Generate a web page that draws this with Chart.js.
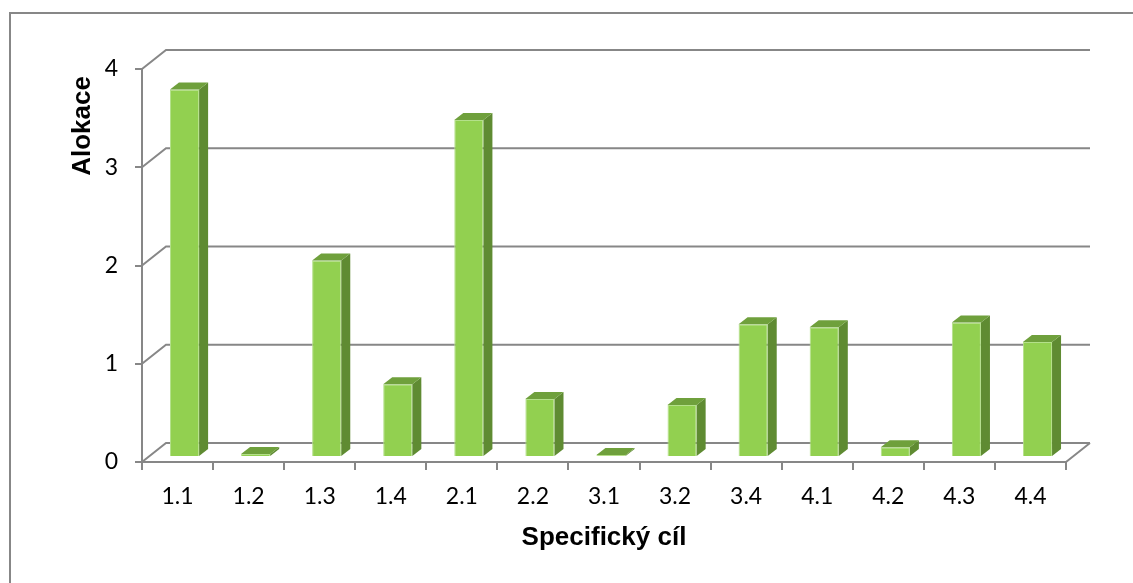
<!DOCTYPE html>
<html lang="cs">
<head>
    <meta charset="UTF-8">
    <title>Alokace podle specifického cíle</title>
    <script src="https://cdn.jsdelivr.net/npm/chart.js"></script>
    <style>
        html, body { margin: 0; padding: 0; background: #fff; }
        #wrap { position: relative; width: 1133px; height: 583px; }
        #frame {
            position: absolute; left: 9px; top: 12px; right: 0; bottom: 0;
            border-left: 2px solid #878787; border-top: 2px solid #878787;
            pointer-events: none;
        }
    </style>
</head>
<body>
    <div id="wrap">
        <canvas id="chart"></canvas>
        <div id="frame"></div>
    </div>
    <script>
        // Data
        const categories = ['1.1', '1.2', '1.3', '1.4', '2.1', '2.2', '3.1', '3.2', '3.4', '4.1', '4.2', '4.3', '4.4'];
        const allocation = [3.74, 0.03, 2.0, 0.74, 3.43, 0.59, 0.02, 0.53, 1.35, 1.32, 0.10, 1.37, 1.17];
        const yTicks = [0, 1, 2, 3, 4];
        const yTitle = 'Alokace';

        const GRID = '#878787';
        const FRONT = '#92d050';
        const SIDE = '#5f8b32';
        const TOP = '#6fa03c';

        // depth offsets: back wall and bar plane, bar thickness
        const WALL = { dx: 24, dy: -19 };
        const BAR = { dx: 7, dy: -5 };
        const DEPTH = { dx: 9, dy: -7 };

        const pseudo3d = {
            id: 'pseudo3d',
            beforeDatasetsDraw(chart) {
                const ctx = chart.ctx;
                const { left, right, bottom } = chart.chartArea;
                const y = chart.scales.y;
                ctx.save();
                ctx.strokeStyle = GRID;
                ctx.lineWidth = 2;
                ctx.beginPath();
                yTicks.forEach(v => {
                    const py = y.getPixelForValue(v);
                    ctx.moveTo(left, py);
                    ctx.lineTo(left + WALL.dx, py + WALL.dy);
                    ctx.lineTo(right + WALL.dx, py + WALL.dy);
                });
                // right edge of the floor
                ctx.moveTo(right, bottom);
                ctx.lineTo(right + WALL.dx, bottom + WALL.dy);
                ctx.stroke();
                ctx.restore();

                ctx.save();
                ctx.translate(BAR.dx, BAR.dy);
            },
            afterDatasetsDraw(chart) {
                const ctx = chart.ctx;
                const meta = chart.getDatasetMeta(0);
                meta.data.forEach(bar => {
                    const p = bar.getProps(['x', 'y', 'base', 'width'], true);
                    const x0 = p.x - p.width / 2, x1 = p.x + p.width / 2;
                    const top = p.y, base = p.base;
                    // side face
                    ctx.fillStyle = SIDE;
                    ctx.beginPath();
                    ctx.moveTo(x1, top);
                    ctx.lineTo(x1 + DEPTH.dx, top + DEPTH.dy);
                    ctx.lineTo(x1 + DEPTH.dx, base + DEPTH.dy);
                    ctx.lineTo(x1, base);
                    ctx.closePath();
                    ctx.fill();
                    // top face
                    ctx.fillStyle = TOP;
                    ctx.beginPath();
                    ctx.moveTo(x0, top);
                    ctx.lineTo(x0 + DEPTH.dx, top + DEPTH.dy);
                    ctx.lineTo(x1 + DEPTH.dx, top + DEPTH.dy);
                    ctx.lineTo(x1, top);
                    ctx.closePath();
                    ctx.fill();
                });
                ctx.restore();
            },
            afterDraw(chart) {
                // value axis title sits near the top of the axis, not centred
                const ctx = chart.ctx;
                ctx.save();
                ctx.translate(83, 126);
                ctx.rotate(-Math.PI / 2);
                ctx.font = 'bold 26px "Liberation Sans"';
                ctx.fillStyle = '#000';
                ctx.textAlign = 'center';
                ctx.textBaseline = 'middle';
                ctx.fillText(yTitle, 0, 0);
                ctx.restore();
            }
        };

        new Chart(document.getElementById('chart'), {
            type: 'bar',
            data: {
                labels: categories,
                datasets: [{
                    label: yTitle,
                    data: allocation,
                    backgroundColor: FRONT,
                    borderColor: '#b4e08a',
                    borderWidth: 1,
                    categoryPercentage: 1,
                    barPercentage: 0.41
                }]
            },
            options: {
                responsive: true,
                maintainAspectRatio: false,
                animation: false,
                layout: { padding: { left: 0, top: 69, right: 67, bottom: 0 } },
                plugins: {
                    legend: { display: false },
                    tooltip: { enabled: false }
                },
                scales: {
                    x: {
                        afterFit(scale) { scale.height = 121; },
                        grid: {
                            offset: true,
                            drawOnChartArea: false,
                            drawTicks: true,
                            tickLength: 8,
                            color: GRID,
                            lineWidth: 2
                        },
                        border: { display: true, color: GRID, width: 2 },
                        ticks: {
                            padding: 13,
                            color: '#000',
                            font: { family: 'Lato', size: 23 }
                        },
                        title: {
                            display: true,
                            text: 'Specifický cíl',
                            color: '#000',
                            font: { family: 'Liberation Sans', size: 26, weight: 'bold' },
                            padding: { top: 0, bottom: 30 }
                        }
                    },
                    y: {
                        min: 0,
                        max: 4,
                        afterFit(scale) { scale.width = 142; },
                        afterBuildTicks(scale) { scale.ticks = yTicks.map(v => ({ value: v })); },
                        grid: {
                            drawOnChartArea: false,
                            drawTicks: true,
                            tickLength: 7,
                            color: GRID,
                            lineWidth: 2
                        },
                        border: { display: true, color: GRID, width: 2 },
                        ticks: {
                            padding: 17,
                            color: '#000',
                            font: { family: 'Lato', size: 23 }
                        },
                        title: { display: false }
                    }
                }
            },
            plugins: [pseudo3d]
        });
    </script>
</body>
</html>
